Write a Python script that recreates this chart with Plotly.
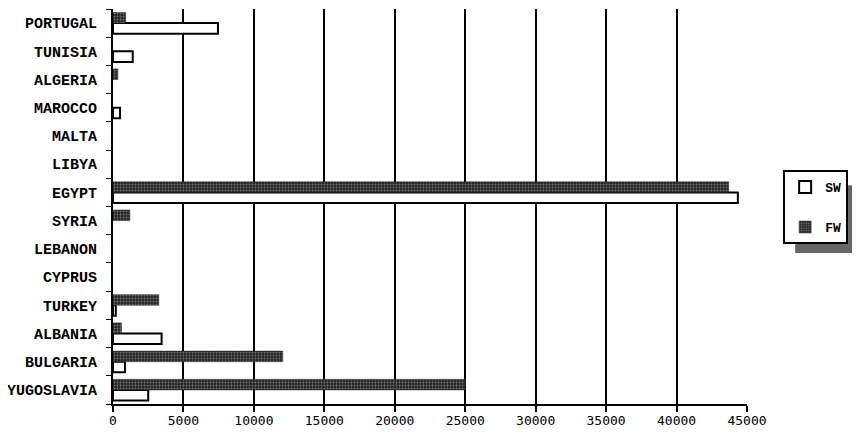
import plotly.graph_objects as go

countries = ["PORTUGAL", "TUNISIA", "ALGERIA", "MAROCCO", "MALTA", "LIBYA", "EGYPT",
             "SYRIA", "LEBANON", "CYPRUS", "TURKEY", "ALBANIA", "BULGARIA", "YUGOSLAVIA"]
sw = [7450, 1400, 0, 500, 0, 0, 44350, 0, 0, 0, 200, 3450, 850, 2500]
fw = [900, 0, 350, 0, 0, 0, 43700, 1200, 0, 0, 3250, 600, 12050, 25000]
x_ticks = [0, 5000, 10000, 15000, 20000, 25000, 30000, 35000, 40000, 45000]

mono = "Liberation Mono"
sans_mono = "DejaVu Sans Mono"


def hide_zero(vals):
    return [v if v else None for v in vals]


fig = go.Figure()
fig.add_trace(go.Bar(
    y=countries, x=hide_zero(sw), orientation="h", name="SW", legendgroup="sw",
    marker=dict(color="white", line=dict(color="black", width=2)),
))
fig.add_trace(go.Bar(
    y=countries, x=hide_zero(fw), orientation="h", name="FW", legendgroup="fw",
    marker=dict(color="#242424", line=dict(color="#222", width=0.5),
                pattern=dict(shape=".", fgcolor="#c8c8c8", size=3, solidity=0.3)),
))

# page has an 8px body margin, so the figure is sized to fit the 860x434 window
fig.update_layout(
    width=852, height=426,
    margin=dict(l=105, r=113, t=1, b=30, autoexpand=False),
    paper_bgcolor="white", plot_bgcolor="white",
    barmode="group", bargap=0.25, bargroupgap=0,
    font=dict(family=mono, size=12, color="black"),
    showlegend=True,
    legend=dict(x=1.057, y=0.592, xanchor="left", yanchor="top",
                bgcolor="white", bordercolor="black", borderwidth=2,
                font=dict(family=mono, size=13, color="black", weight="bold"),
                tracegroupgap=20, itemwidth=30),
    shapes=[dict(type="rect", xref="paper", yref="paper",
                 x0=1.076, x1=1.170, y0=0.382, y1=0.554,
                 fillcolor="#666", line=dict(width=0), layer="below")],
)

fig.update_xaxes(
    range=[0, 45000], tickvals=x_ticks, ticktext=[str(v) for v in x_ticks],
    showgrid=True, gridcolor="black", gridwidth=2,
    showline=True, linecolor="black", linewidth=2,
    ticks="outside", ticklen=6, tickwidth=2, tickcolor="black",
    zeroline=False, tickfont=dict(family=sans_mono, size=13),
    ticklabelstandoff=-3, automargin=False,
)
fig.update_yaxes(
    categoryorder="array", categoryarray=countries[::-1],
    showline=True, linecolor="black", linewidth=2,
    ticks="outside", tickson="boundaries", ticklen=5, tickwidth=1, tickcolor="black",
    showgrid=False, tickfont=dict(family=mono, size=15, weight="bold"),
    ticklabelstandoff=11, automargin=False,
)

fig.write_html("out.html")
